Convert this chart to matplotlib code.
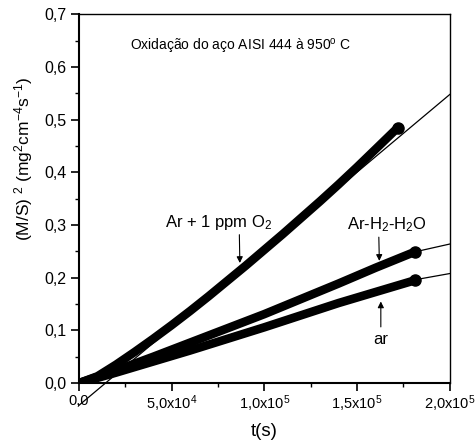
import matplotlib
matplotlib.use("Agg")
import matplotlib.pyplot as plt
import numpy as np

plt.rcParams['font.family'] = ['Liberation Sans', 'DejaVu Sans']
plt.rcParams['mathtext.fontset'] = 'custom'
plt.rcParams['mathtext.rm'] = 'Liberation Sans'
plt.rcParams['mathtext.it'] = 'Liberation Sans'
plt.rcParams['mathtext.default'] = 'regular'

# Ar + 1 ppm O2
t_o2 = [0, 1e4, 2e4, 3e4, 4e4, 5e4, 6e4, 7e4, 8e4, 9e4, 1e5, 1.1e5, 1.2e5,
        1.3e5, 1.4e5, 1.5e5, 1.6e5, 1.72e5]
y_o2 = [0, 0.013, 0.035, 0.059, 0.084, 0.110, 0.137, 0.165, 0.194, 0.223,
        0.253, 0.283, 0.314, 0.345, 0.377, 0.410, 0.444, 0.485]
# Ar-H2-H2O
t_h2o = [0, 2e4, 4e4, 6e4, 8e4, 1e5, 1.2e5, 1.4e5, 1.6e5, 1.81e5]
y_h2o = [0, 0.024, 0.050, 0.077, 0.104, 0.131, 0.160, 0.189, 0.219, 0.249]
# ar
t_ar = [0, 2e4, 4e4, 6e4, 8e4, 1e5, 1.2e5, 1.4e5, 1.6e5, 1.81e5]
y_ar = [0, 0.020, 0.041, 0.062, 0.084, 0.106, 0.129, 0.152, 0.173, 0.195]

# linear fits: (slope, intercept, t start, t end)
fit_o2 = (2.95e-6, -0.0422, 0, 2e5)
fit_h2o = (7.9e-7, 0.106, 1.75e5, 2e5)
fit_ar = (6.3e-7, 0.082, 1.75e5, 2e5)

xticks = [0, 5e4, 1e5, 1.5e5, 2e5]
xticklabels = ['0,0', '5,0x10$^{4}$', '1,0x10$^{5}$', '1,5x10$^{5}$', '2,0x10$^{5}$']
yticks = [0, 0.1, 0.2, 0.3, 0.4, 0.5, 0.6, 0.7]
yticklabels = ['0,0', '0,1', '0,2', '0,3', '0,4', '0,5', '0,6', '0,7']

fig = plt.figure(figsize=(4.75, 4.44), dpi=100)
ax = fig.add_axes([0.166, 0.137, 0.781, 0.831])

for t, y in [(t_o2, y_o2), (t_h2o, y_h2o), (t_ar, y_ar)]:
    ax.plot(t, y, color='black', lw=6.2, solid_capstyle='round', zorder=3)
    ax.plot(t[-1], y[-1], 'o', color='black', ms=8, zorder=4)

for s, b, t0, t1 in [fit_o2, fit_h2o, fit_ar]:
    tt = np.array([t0, t1])
    ax.plot(tt, s * tt + b, color='black', lw=0.9, clip_on=False, zorder=2)

ax.set_xlim(0, 2e5)
ax.set_ylim(0, 0.7)
ax.set_xticks(xticks)
ax.set_xticklabels(xticklabels, fontsize=10.5)
ax.set_yticks(yticks)
ax.set_yticklabels(yticklabels, fontsize=11.5)
ax.set_xticks([2.5e4, 7.5e4, 1.25e5, 1.75e5], minor=True)
ax.set_yticks([0.05, 0.15, 0.25, 0.35, 0.45, 0.55, 0.65], minor=True)
ax.tick_params(which='major', direction='out', length=5.5, width=1.2)
ax.tick_params(which='minor', direction='out', length=3, width=1.0)
ax.tick_params(axis='x', which='major', pad=2)
for sp in ax.spines.values():
    sp.set_linewidth(1.0)
ax.spines['left'].set_linewidth(1.5)
ax.spines['bottom'].set_linewidth(1.5)

ax.set_xlabel('t(s)', fontsize=13.5, labelpad=6)
ax.set_ylabel('(M/S) $^{2}$ (mg$^{2}$cm$^{-4}$s$^{-1}$)', fontsize=12.5)
ax.yaxis.set_label_coords(-0.118, 0.607)

ax.text(0.437, 0.913, 'Oxidação do aço AISI 444 à 950$^{o}$ C', transform=ax.transAxes,
        ha='center', va='center', fontsize=10)

arrow = dict(arrowstyle='-|>', color='black', lw=0.8, mutation_scale=9)
ax.annotate('Ar + 1 ppm O$_{2}$', xy=(8.68e4, 0.228), xytext=(7.55e4, 0.305),
            ha='center', va='center', fontsize=12,
            arrowprops=dict(arrow, shrinkA=0, shrinkB=0, relpos=(0.69, 0)))
ax.annotate('Ar-H$_{2}$-H$_{2}$O', xy=(1.62e5, 0.232), xytext=(1.66e5, 0.300),
            ha='center', va='center', fontsize=12,
            arrowprops=dict(arrow, shrinkA=0, shrinkB=0, relpos=(0.4, 0)))
ax.annotate('ar', xy=(1.628e5, 0.155), xytext=(1.628e5, 0.082),
            ha='center', va='center', fontsize=12,
            arrowprops=dict(arrow, shrinkA=2, shrinkB=0, relpos=(0.5, 1)))

fig.savefig('out.png', dpi=100)
